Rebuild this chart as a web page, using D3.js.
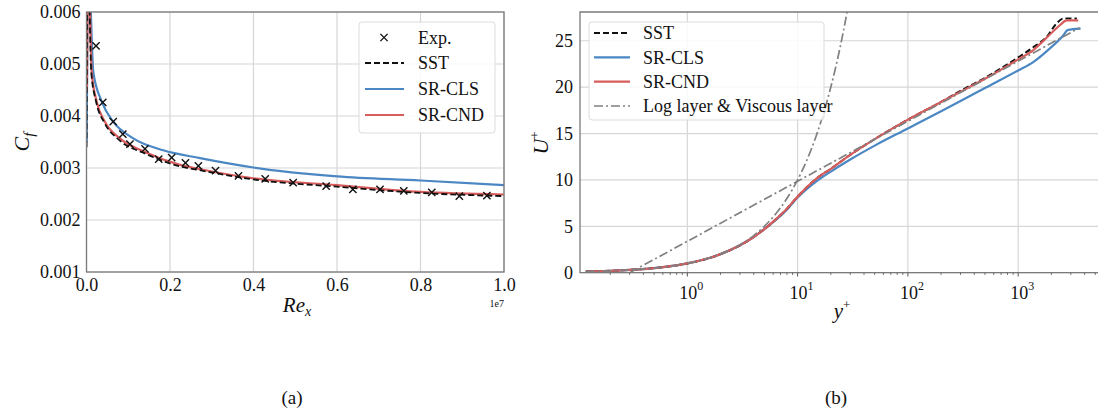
<!DOCTYPE html>
<html lang="en">
  <head>
    <meta charset="utf-8" />
    <title>Cf and U+ profiles</title>
    <script type="text/javascript" src="https://cdn.jsdelivr.net/npm/d3@7"></script>
    <style>
      body { margin: 0; background: white; }
      svg text { font-family: "Liberation Serif", "Times New Roman", serif; fill: #111; }
    </style>
  </head>
  <body>
    <script type="text/javascript">
// ---- panel (a): skin friction, Re_x in units of 1e7 ----
var expRe = [0.0228, 0.039, 0.064, 0.087, 0.104, 0.14, 0.173, 0.204, 0.237, 0.268, 0.309,
             0.364, 0.428, 0.495, 0.574, 0.638, 0.703, 0.760, 0.827, 0.893, 0.959];
var expCf = [0.00535, 0.00426, 0.00389, 0.00365, 0.00346, 0.00337, 0.00317, 0.0032, 0.0031, 0.00304, 0.00295,
             0.00285, 0.00279, 0.00272, 0.00265, 0.00259, 0.00259, 0.00256, 0.00253, 0.00246, 0.00247];

var sstRe = [0.0002, 0.002, 0.004, 0.0115, 0.0235, 0.043, 0.078, 0.14, 0.224, 0.27, 0.4, 0.6, 0.8, 1.0];
var sstCf = [0.0034, 0.0064, 0.0068, 0.00484, 0.00426, 0.00387, 0.00354, 0.00328, 0.00303, 0.00296, 0.00278, 0.00264, 0.00252, 0.00246];
var clsRe = [0.0005, 0.0025, 0.005, 0.0163, 0.0364, 0.064, 0.112, 0.184, 0.272, 0.4, 0.6, 0.8, 1.0];
var clsCf = [0.0035, 0.0064, 0.0069, 0.00485, 0.00428, 0.00389, 0.00357, 0.00334, 0.00319, 0.00301, 0.00284, 0.00276, 0.00267];
var cndRe = [0.001, 0.003, 0.005, 0.0124, 0.0243, 0.044, 0.08, 0.14, 0.224, 0.27, 0.4, 0.6, 0.8, 1.0];
var cndCf = [0.0045, 0.0064, 0.0068, 0.00485, 0.00428, 0.00389, 0.00357, 0.00331, 0.00306, 0.00298, 0.0028, 0.00267, 0.00254, 0.00249];

var cfTicks = [0.001, 0.002, 0.003, 0.004, 0.005, 0.006];
var reTicks = [0.0, 0.2, 0.4, 0.6, 0.8, 1.0];

// ---- panel (b): velocity profile ----
var sstY = [0.12, 0.2, 0.3, 0.5, 0.7, 1, 1.5, 2, 3, 4, 5, 6, 8, 10, 15, 20, 30, 50, 100, 200, 300, 500, 1000, 1370, 1810, 2240, 2570, 3400];
var sstU = [0.12, 0.2, 0.3, 0.5, 0.7, 1.0, 1.5, 2.0, 2.95, 3.85, 4.7, 5.5, 6.9, 8.2, 10.2, 11.2, 12.7, 14.4, 16.5, 18.4, 19.6, 21.0, 23.2, 24.3, 25.4, 26.9, 27.4, 27.4];
var clsY = [0.12, 0.2, 0.3, 0.5, 0.7, 1, 1.5, 2, 3, 4, 5, 6, 8, 10, 15, 20, 30, 50, 100, 200, 300, 500, 1000, 1370, 1950, 2570, 2800, 3680];
var clsU = [0.12, 0.2, 0.3, 0.5, 0.7, 1.0, 1.5, 2.0, 2.95, 3.85, 4.7, 5.45, 6.8, 8.1, 9.9, 10.9, 12.2, 13.7, 15.55, 17.4, 18.5, 19.9, 21.8, 22.7, 24.2, 25.6, 26.15, 26.3];
var cndY = [0.12, 0.2, 0.3, 0.5, 0.7, 1, 1.5, 2, 3, 4, 5, 6, 8, 10, 15, 20, 30, 50, 100, 200, 300, 500, 1000, 1370, 1700, 2070, 2400, 2750, 3100, 3500];
var cndU = [0.12, 0.2, 0.3, 0.5, 0.7, 1.0, 1.5, 2.0, 2.95, 3.85, 4.7, 5.5, 6.9, 8.2, 10.2, 11.2, 12.7, 14.4, 16.5, 18.4, 19.5, 20.9, 23.0, 24.0, 25.0, 26.0, 26.7, 27.2, 27.2, 27.2];
var logY = [0.3, 3600];
var logU = [0.0, 26.4];
var viscY = [0.12, 0.2, 0.3, 0.5, 0.7, 1, 1.5, 2, 3, 4, 5, 6, 8, 10, 12, 15, 18, 22, 26, 30];
var viscU = [0.12, 0.2, 0.3, 0.5, 0.7, 1, 1.5, 2, 3, 4, 5, 6, 8, 10, 12, 15, 18, 22, 26, 30];

var uTicks = [0, 5, 10, 15, 20, 25];
var yPlusTicks = [1, 10, 100, 1000];

var colBlue = "#4a87c3";
var colRed = "#d95c5c";
var colGrid = "#d6d6d6";
var colSpine = "#7a7a7a";
var serif = "'Liberation Serif', 'Times New Roman', serif";

var w = 1098;
var h = 411;
var svg = d3.select("body").append("svg").attr("width", w).attr("height", h);

function zip(xs, ys) {
  return xs.map(function(x, i) { return [x, ys[i]]; });
}

// ---------- panel (a) ----------
var xA = d3.scaleLinear().domain([0, 1]).range([86.5, 504]);
var yA = d3.scaleLinear().domain([0.001, 0.006]).range([272, 12]);

var gA = svg.append("g").attr("id", "panel_a");
gA.append("clipPath").attr("id", "clipA")
  .append("rect").attr("x", 86.5).attr("y", 12).attr("width", 504 - 86.5).attr("height", 260);

gA.append("g").selectAll("line").data(reTicks).enter().append("line")
  .attr("x1", function(d) { return xA(d); }).attr("x2", function(d) { return xA(d); })
  .attr("y1", 12).attr("y2", 272).attr("stroke", colGrid).attr("stroke-width", 1.2);
gA.append("g").selectAll("line").data(cfTicks).enter().append("line")
  .attr("x1", 86.5).attr("x2", 504)
  .attr("y1", function(d) { return yA(d); }).attr("y2", function(d) { return yA(d); })
  .attr("stroke", colGrid).attr("stroke-width", 1.2);

var lineA = d3.line()
  .x(function(d) { return xA(d[0]); })
  .y(function(d) { return yA(d[1]); })
  .curve(d3.curveMonotoneX);

var curvesA = gA.append("g").attr("clip-path", "url(#clipA)");
curvesA.append("path").attr("d", lineA(zip(clsRe, clsCf)))
  .attr("fill", "none").attr("stroke", colBlue).attr("stroke-width", 2.2);
curvesA.append("path").attr("d", lineA(zip(cndRe, cndCf)))
  .attr("fill", "none").attr("stroke", colRed).attr("stroke-width", 2.2);
curvesA.append("path").attr("d", lineA(zip(sstRe, sstCf)))
  .attr("fill", "none").attr("stroke", "#111").attr("stroke-width", 1.8)
  .attr("stroke-dasharray", "6,3");

curvesA.append("g").selectAll("path").data(zip(expRe, expCf)).enter().append("path")
  .attr("d", d3.symbol().type(d3.symbolX).size(36))
  .attr("transform", function(d) { return "translate(" + xA(d[0]) + "," + yA(d[1]) + ")"; })
  .attr("fill", "none").attr("stroke", "#111").attr("stroke-width", 1.4);

gA.append("rect").attr("x", 86.5).attr("y", 12).attr("width", 504 - 86.5).attr("height", 260)
  .attr("fill", "none").attr("stroke", colSpine).attr("stroke-width", 1.3);

gA.append("g").attr("transform", "translate(0,272)")
  .call(d3.axisBottom(xA).tickValues(reTicks).tickSize(0).tickPadding(0).tickFormat(d3.format(".1f")))
  .call(function(g) {
    g.select(".domain").remove();
    g.selectAll("text").attr("y", 19).attr("dy", 0)
      .style("font-size", "18px").style("font-family", serif).style("fill", "#111");
  });
gA.append("g").attr("transform", "translate(86.5,0)")
  .call(d3.axisLeft(yA).tickValues(cfTicks).tickSize(0).tickPadding(6).tickFormat(d3.format(".3f")))
  .call(function(g) {
    g.select(".domain").remove();
    g.selectAll("text").style("font-size", "18px").style("font-family", serif).style("fill", "#111");
  });

gA.append("text").attr("x", 504).attr("y", 307).attr("text-anchor", "end")
  .attr("font-size", 10).text("1e7");

var reLab = gA.append("text").attr("x", 297).attr("y", 312).attr("text-anchor", "middle")
  .attr("font-size", 21).attr("font-style", "italic");
reLab.append("tspan").text("Re");
reLab.append("tspan").attr("font-size", 14).attr("dy", 4).text("x");

var cfLab = gA.append("text").attr("transform", "translate(29,142) rotate(-90)")
  .attr("text-anchor", "middle").attr("font-size", 22).attr("font-style", "italic");
cfLab.append("tspan").text("C");
cfLab.append("tspan").attr("font-size", 15).attr("dy", 5).text("f");

// legend (a)
var legA = gA.append("g");
legA.append("rect").attr("x", 359).attr("y", 22).attr("width", 136).attr("height", 111)
  .attr("rx", 3).attr("fill", "white").attr("fill-opacity", 0.85)
  .attr("stroke", "#dcdcdc").attr("stroke-width", 1);
var legAItems = ["Exp.", "SST", "SR-CLS", "SR-CND"];
var legARows = [37.5, 63, 89, 115];
legA.append("path").attr("d", d3.symbol().type(d3.symbolX).size(36))
  .attr("transform", "translate(384," + legARows[0] + ")")
  .attr("fill", "none").attr("stroke", "#111").attr("stroke-width", 1.4);
legA.append("line").attr("x1", 365).attr("x2", 404).attr("y1", legARows[1]).attr("y2", legARows[1])
  .attr("stroke", "#111").attr("stroke-width", 1.8).attr("stroke-dasharray", "6,3");
legA.append("line").attr("x1", 365).attr("x2", 404).attr("y1", legARows[2]).attr("y2", legARows[2])
  .attr("stroke", colBlue).attr("stroke-width", 2.2);
legA.append("line").attr("x1", 365).attr("x2", 404).attr("y1", legARows[3]).attr("y2", legARows[3])
  .attr("stroke", colRed).attr("stroke-width", 2.2);
legA.selectAll("text.lab").data(legAItems).enter().append("text")
  .attr("x", 418).attr("y", function(d, i) { return legARows[i]; }).attr("dy", "0.35em")
  .attr("font-size", 18).text(function(d) { return d; });

// ---------- panel (b) ----------
var xB = d3.scaleLog().domain([0.1064, 6000]).range([580, 1104]);
var yB = d3.scaleLinear().domain([0, 28.1]).range([272.7, 12]);

var gB = svg.append("g").attr("id", "panel_b");
gB.append("clipPath").attr("id", "clipB")
  .append("rect").attr("x", 580).attr("y", 12).attr("width", 524).attr("height", 260.7);

gB.append("g").selectAll("line").data(yPlusTicks).enter().append("line")
  .attr("x1", function(d) { return xB(d); }).attr("x2", function(d) { return xB(d); })
  .attr("y1", 12).attr("y2", 272.7).attr("stroke", colGrid).attr("stroke-width", 1.2);
gB.append("g").selectAll("line").data(uTicks).enter().append("line")
  .attr("x1", 580).attr("x2", 1104)
  .attr("y1", function(d) { return yB(d); }).attr("y2", function(d) { return yB(d); })
  .attr("stroke", colGrid).attr("stroke-width", 1.2);

var lineB = d3.line()
  .x(function(d) { return xB(d[0]); })
  .y(function(d) { return yB(d[1]); })
  .curve(d3.curveMonotoneX);

var curvesB = gB.append("g").attr("clip-path", "url(#clipB)");
curvesB.append("path").attr("d", lineB(zip(clsY, clsU)))
  .attr("fill", "none").attr("stroke", colBlue).attr("stroke-width", 2.2);
curvesB.append("path").attr("d", lineB(zip(sstY, sstU)))
  .attr("fill", "none").attr("stroke", "#111").attr("stroke-width", 2)
  .attr("stroke-dasharray", "6,3");
curvesB.append("path").attr("d", lineB(zip(cndY, cndU)))
  .attr("fill", "none").attr("stroke", colRed).attr("stroke-width", 2.2);
curvesB.append("path").attr("d", d3.line()
    .x(function(d) { return xB(d[0]); }).y(function(d) { return yB(d[1]); })(zip(logY, logU)))
  .attr("fill", "none").attr("stroke", "#808080").attr("stroke-width", 1.7)
  .attr("stroke-dasharray", "9,3,2,3");
curvesB.append("path").attr("d", lineB(zip(viscY, viscU)))
  .attr("fill", "none").attr("stroke", "#808080").attr("stroke-width", 1.7)
  .attr("stroke-dasharray", "9,3,2,3");

gB.append("path").attr("d", "M1104,12H580V272.7H1104")
  .attr("fill", "none").attr("stroke", colSpine).attr("stroke-width", 1.3);

// minor ticks on the log axis
var minorTicks = [];
[0.1, 1, 10, 100, 1000].forEach(function(dec) {
  for (var k = 2; k <= 9; k++) {
    var v = dec * k;
    if (v > 0.1064 && v < 6000) minorTicks.push(v);
  }
});
gB.append("g").selectAll("line").data(minorTicks).enter().append("line")
  .attr("x1", function(d) { return xB(d); }).attr("x2", function(d) { return xB(d); })
  .attr("y1", 272.7).attr("y2", 275).attr("stroke", "#555").attr("stroke-width", 0.8);
gB.append("g").selectAll("line").data(yPlusTicks).enter().append("line")
  .attr("x1", function(d) { return xB(d); }).attr("x2", function(d) { return xB(d); })
  .attr("y1", 272.7).attr("y2", 276.5).attr("stroke", "#555").attr("stroke-width", 1);

var xLabs = gB.append("g").selectAll("text").data(yPlusTicks).enter().append("text")
  .attr("x", function(d) { return xB(d) + 4; }).attr("y", 299)
  .attr("text-anchor", "middle").attr("font-size", 18);
xLabs.append("tspan").text("10");
xLabs.append("tspan").attr("font-size", 12).attr("dy", -9)
  .text(function(d) { return Math.round(Math.log10(d)); });

gB.append("g").attr("transform", "translate(580,0)")
  .call(d3.axisLeft(yB).tickValues(uTicks).tickSize(0).tickPadding(7))
  .call(function(g) {
    g.select(".domain").remove();
    g.selectAll("text").style("font-size", "18px").style("font-family", serif).style("fill", "#111");
  });

var ypLab = gB.append("text").attr("x", 842).attr("y", 318).attr("text-anchor", "middle")
  .attr("font-size", 21).attr("font-style", "italic");
ypLab.append("tspan").text("y");
ypLab.append("tspan").attr("font-size", 13).attr("dy", -9).attr("font-style", "normal").text("+");

var upLab = gB.append("text").attr("transform", "translate(548,143) rotate(-90)")
  .attr("text-anchor", "middle").attr("font-size", 22).attr("font-style", "italic");
upLab.append("tspan").text("U");
upLab.append("tspan").attr("font-size", 13).attr("dy", -9).attr("font-style", "normal").text("+");

// legend (b)
var legB = gB.append("g");
legB.append("rect").attr("x", 589).attr("y", 22).attr("width", 235).attr("height", 98)
  .attr("rx", 3).attr("fill", "white").attr("fill-opacity", 0.85)
  .attr("stroke", "#dcdcdc").attr("stroke-width", 1);
var legBItems = ["SST", "SR-CLS", "SR-CND", "Log layer & Viscous layer"];
var legBRows = [33, 57.3, 81.6, 106];
var legBStyles = [
  { c: "#111", dash: "6,3", wd: 2 },
  { c: colBlue, dash: null, wd: 2.2 },
  { c: colRed, dash: null, wd: 2.2 },
  { c: "#808080", dash: "9,3,2,3", wd: 1.7 }
];
legB.selectAll("line").data(legBStyles).enter().append("line")
  .attr("x1", 594).attr("x2", 630)
  .attr("y1", function(d, i) { return legBRows[i]; }).attr("y2", function(d, i) { return legBRows[i]; })
  .attr("stroke", function(d) { return d.c; }).attr("stroke-width", function(d) { return d.wd; })
  .attr("stroke-dasharray", function(d) { return d.dash; });
legB.selectAll("text").data(legBItems).enter().append("text")
  .attr("x", 643).attr("y", function(d, i) { return legBRows[i]; }).attr("dy", "0.35em")
  .attr("font-size", 18).text(function(d) { return d; });

// captions
svg.append("text").attr("x", 292).attr("y", 404).attr("text-anchor", "middle")
  .attr("font-size", 19).text("(a)");
svg.append("text").attr("x", 836).attr("y", 404).attr("text-anchor", "middle")
  .attr("font-size", 19).text("(b)");
    </script>
  </body>
</html>
